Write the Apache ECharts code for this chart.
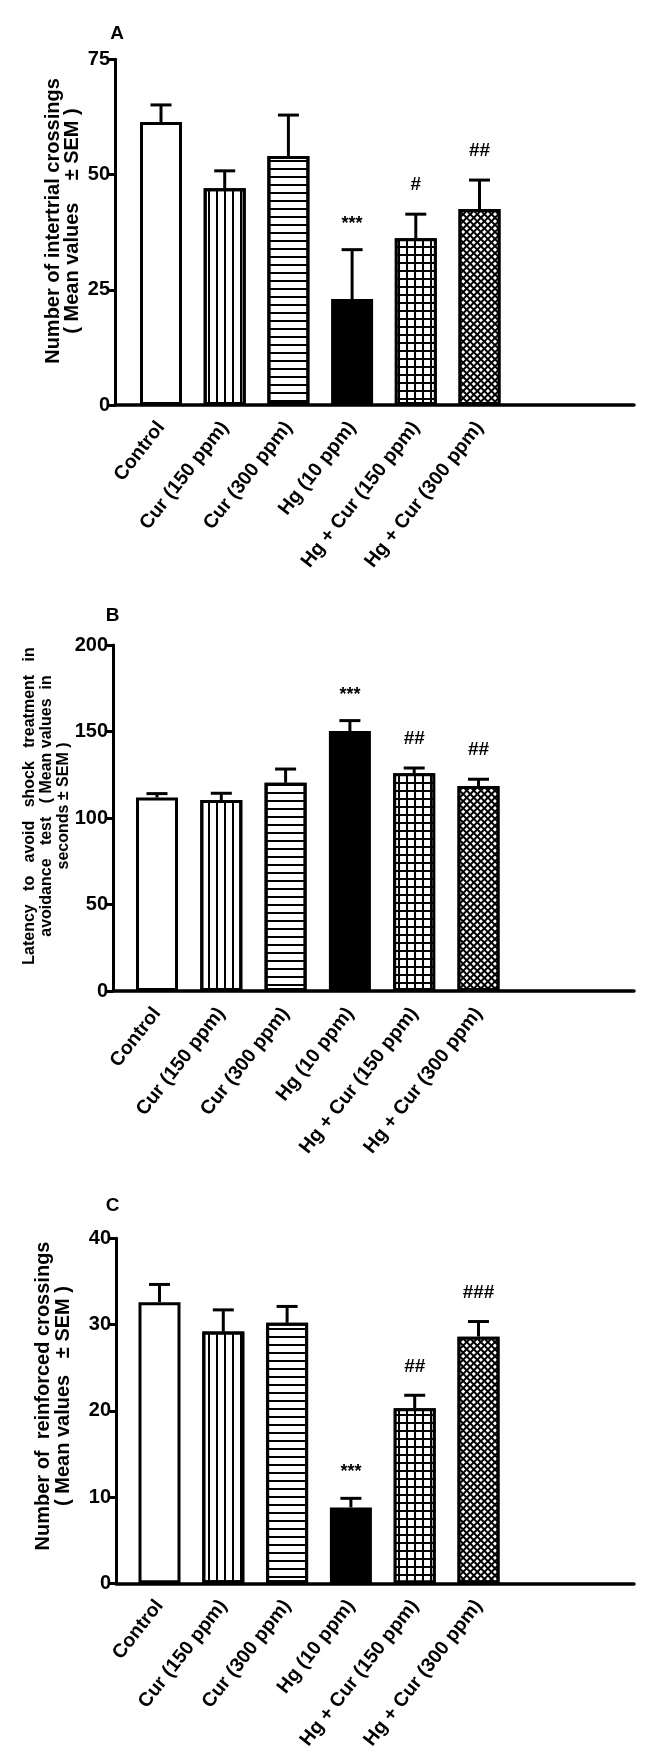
<!DOCTYPE html>
<html>
<head>
<meta charset="utf-8">
<script src="https://cdn.jsdelivr.net/npm/echarts@6/dist/echarts.min.js"></script>
<style>
html,body{margin:0;padding:0;background:#fff;}
#chart{width:669px;height:1753px;}
</style>
</head>
<body>
<div id="chart"></div>
<script>
// ---------- data ----------
const categories = ['Control', 'Cur (150 ppm)', 'Cur (300 ppm)', 'Hg (10 ppm)', 'Hg + Cur (150 ppm)', 'Hg + Cur (300 ppm)'];

const meanA = [61.4, 47.0, 54.0, 23.0, 36.2, 42.5];
const semA  = [3.7, 3.8, 8.9, 10.7, 5.2, 6.3];
const sigA  = ['', '', '', '***', '#', '##'];
const ticksA = [0, 25, 50, 75];

const meanB = [111.8, 110.4, 120.4, 150.3, 125.8, 118.5];
const semB  = [2.3, 3.9, 7.9, 6.0, 3.1, 3.9];
const sigB  = ['', '', '', '***', '##', '##'];
const ticksB = [0, 50, 100, 150, 200];

const meanC = [32.6, 29.2, 30.2, 8.8, 20.3, 28.6];
const semC  = [2.05, 2.5, 1.9, 1.05, 1.5, 1.75];
const sigC  = ['', '', '', '***', '##', '###'];
const ticksC = [0, 10, 20, 30, 40];

const panelLetters = ['A', 'B', 'C'];
const yTitles = [
  'Number of intertrial crossings\n( Mean values    \u00b1 SEM )',
  'Latency   to   avoid   shock   treatment   in\navoidance   test   ( Mean values  in\nseconds \u00b1 SEM )',
  'Number of  reinforced crossings\n( Mean values   \u00b1 SEM )'
];

// ---------- layout / style (not data) ----------
const FONT = '"Liberation Sans", Arial, Helvetica, sans-serif';
const layout = [
  {top: 59.3, zero: 405, axisX: 115, c0: 161, step: 63.7, right: 634,
   letter: [117, 33.5], title: [62.5, 221], titleSize: 20, titleLH: 19},
  {top: 645, zero: 991, axisX: 113, c0: 157, step: 64.3, right: 634,
   letter: [112.5, 615.5], title: [47, 806], titleSize: 16, titleLH: 17},
  {top: 1238.3, zero: 1583.3, axisX: 116, c0: 159.5, step: 63.8, right: 634,
   letter: [112.5, 1206], title: [53, 1396], titleSize: 20, titleLH: 20}
];

const decals = [
  null,
  {symbol: 'rect', symbolSize: 1, color: '#000', dashArrayX: [1.3, 5.5], dashArrayY: [10, 0]},
  {symbol: 'rect', symbolSize: 1, color: '#000', dashArrayX: [10, 0], dashArrayY: [1.4, 5.4]},
  null,
  {symbol: 'rect', symbolSize: 1, color: '#fff', dashArrayX: [5.6, 1.3], dashArrayY: [5.4, 1.3]},
  {symbol: 'rect', symbolSize: 1, color: '#fff', dashArrayX: [2.1, 1.2], dashArrayY: [2.1, 1.2], rotation: Math.PI / 4}
];
const fills = ['#fff', '#fff', '#fff', '#000', '#000', '#000'];

const panels = [
  {mean: meanA, sem: semA, sig: sigA, ticks: ticksA},
  {mean: meanB, sem: semB, sig: sigB, ticks: ticksB},
  {mean: meanC, sem: semC, sig: sigC, ticks: ticksC}
];

const grid = [], xAxis = [], yAxis = [], series = [], graphic = [];

panels.forEach((p, k) => {
  const L = layout[k];
  const h = L.zero - L.top;
  const yMin = p.ticks[0], yMax = p.ticks[p.ticks.length - 1];
  const yInt = p.ticks[1] - p.ticks[0];

  // axis grid (long x-axis line + visible y axis)
  const gAxis = grid.length;
  grid.push({left: L.axisX, top: L.top, width: L.right - L.axisX, height: h, containLabel: false});
  xAxis.push({
    gridIndex: gAxis, type: 'value', min: 0, max: 1,
    axisLine: {show: true, onZero: false, lineStyle: {color: '#000', width: 3.5}},
    axisTick: {show: false}, axisLabel: {show: false}, splitLine: {show: false}
  });
  yAxis.push({
    gridIndex: gAxis, type: 'value', min: yMin, max: yMax, interval: yInt,
    axisLine: {show: true, lineStyle: {color: '#000', width: 3}},
    axisTick: {show: true, inside: false, length: 6, lineStyle: {color: '#000', width: 3}},
    axisLabel: {show: true, margin: 5, color: '#000', fontFamily: FONT, fontWeight: 'bold', fontSize: 20},
    splitLine: {show: false}
  });

  // bar grid
  const gBar = grid.length;
  grid.push({left: L.c0 - L.step / 2, top: L.top, width: L.step * categories.length, height: h, containLabel: false});
  const xi = xAxis.length;
  xAxis.push({
    gridIndex: gBar, type: 'category', data: categories,
    axisLine: {show: false}, axisTick: {show: false}, splitLine: {show: false},
    axisLabel: {interval: 0, rotate: 52, margin: 19, color: '#000', fontFamily: FONT, fontWeight: 'bold', fontSize: 19.5}
  });
  const yi = yAxis.length;
  yAxis.push({gridIndex: gBar, type: 'value', min: yMin, max: yMax, interval: yInt, show: false});

  series.push({
    type: 'bar', xAxisIndex: xi, yAxisIndex: yi, barWidth: 42, z: 3,
    data: p.mean.map((v, i) => ({
      value: v,
      itemStyle: {color: fills[i], borderColor: '#000', borderWidth: 3, decal: decals[i] || undefined}
    })),
    itemStyle: {borderColor: '#000', borderWidth: 3},
    emphasis: {disabled: true},
    animation: false
  });

  series.push({
    type: 'custom', xAxisIndex: xi, yAxisIndex: yi, z: 4, animation: false,
    data: p.mean.map((v, i) => [i, v, p.sem[i]]),
    renderItem: function (params, api) {
      const i = api.value(0), m = api.value(1), s = api.value(2);
      const base = api.coord([i, m]);
      const top = api.coord([i, m + s]);
      const children = [
        {type: 'line', shape: {x1: base[0], y1: base[1], x2: top[0], y2: top[1]},
         style: {stroke: '#000', lineWidth: 3}},
        {type: 'line', shape: {x1: top[0] - 10.5, y1: top[1], x2: top[0] + 10.5, y2: top[1]},
         style: {stroke: '#000', lineWidth: 3}}
      ];
      const txt = p.sig[params.dataIndex];
      if (txt) {
        const star = txt.indexOf('*') >= 0;
        children.push({
          type: 'text', x: top[0], y: top[1] - (star ? 26 : 29),
          style: {text: txt, fill: '#000', align: 'center', verticalAlign: 'middle',
                  font: 'bold ' + (star ? 18 : 19) + 'px ' + FONT}
        });
      }
      return {type: 'group', children: children};
    }
  });

  graphic.push({
    type: 'text', x: L.letter[0], y: L.letter[1],
    style: {text: panelLetters[k], fill: '#000', align: 'center', verticalAlign: 'middle',
            font: 'bold 19px ' + FONT}
  });
  graphic.push({
    type: 'text', x: L.title[0], y: L.title[1], rotation: Math.PI / 2,
    style: {text: yTitles[k], fill: '#000', align: 'center', verticalAlign: 'middle',
            font: 'bold ' + L.titleSize + 'px ' + FONT, lineHeight: L.titleLH}
  });
});

const chart = echarts.init(document.getElementById('chart'), null, {renderer: 'canvas', width: 669, height: 1753});
chart.setOption({
  backgroundColor: '#fff',
  animation: false,
  grid: grid, xAxis: xAxis, yAxis: yAxis, series: series, graphic: graphic
});
</script>
</body>
</html>
